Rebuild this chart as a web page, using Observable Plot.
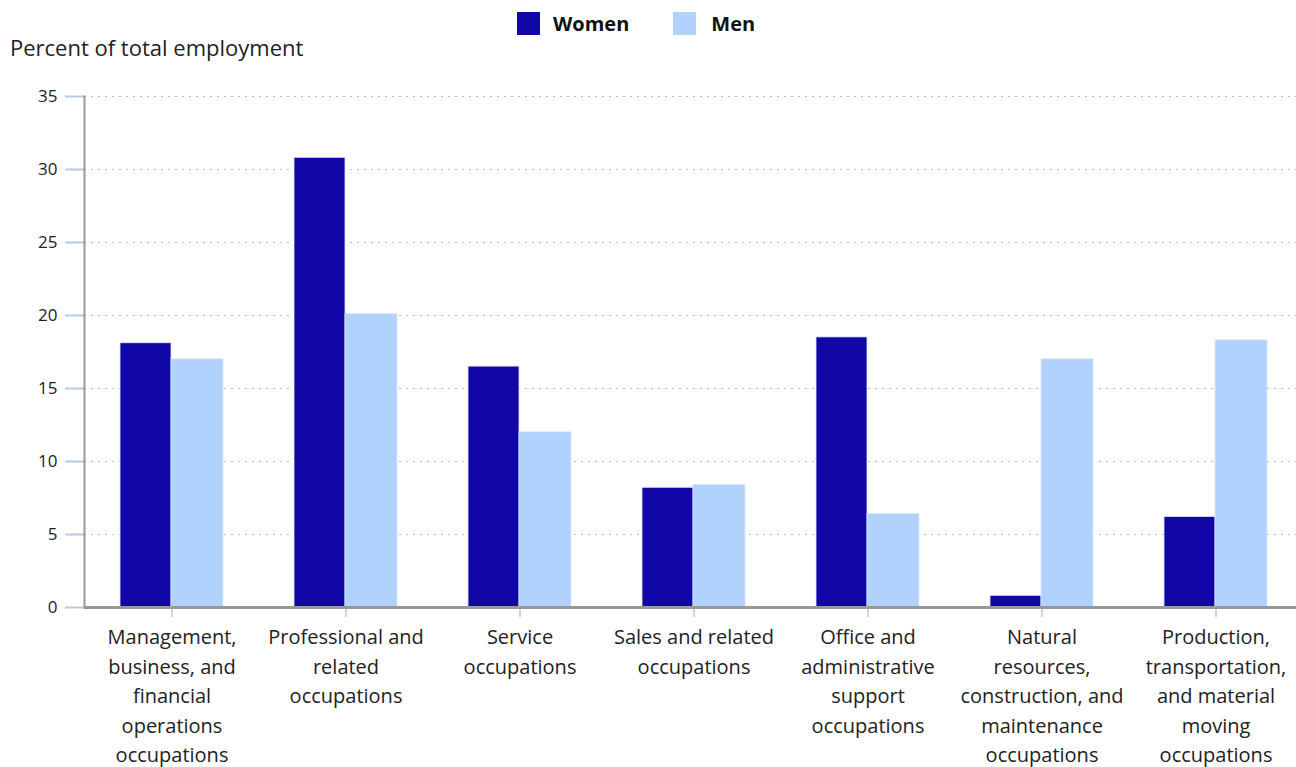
<!DOCTYPE html>
<html>
<head>
<meta charset="utf-8">
<script src="https://cdn.jsdelivr.net/npm/d3@7"></script>
<script src="https://cdn.jsdelivr.net/npm/@observablehq/plot@0.6"></script>
<style>
  body { margin: 0; background: #fff; font-family: "Open Sans", sans-serif; }
  #wrap { position: relative; width: 1296px; height: 767px; }
  #legend { position: absolute; top: 10px; left: 517px; display: flex; align-items: center; font-weight: bold; font-size: 20px; color: #111; }
  .sw { width: 23px; height: 23px; display: inline-block; margin-right: 13px; }
  #ylabel { position: absolute; top: 32px; left: 10px; font-size: 22px; color: #222; }
</style>
</head>
<body>
<div id="wrap">
  <div id="chart"></div>
  <div id="legend">
    <span class="sw" style="background:#1107a6"></span><span style="margin-right:44px">Women</span>
    <span class="sw" style="background:#b0d2fd"></span><span style="margin-left:2px">Men</span>
  </div>
  <div id="ylabel">Percent of total employment</div>
</div>
<script>
const categories = [
  "Management,\nbusiness, and\nfinancial\noperations\noccupations",
  "Professional and\nrelated\noccupations",
  "Service\noccupations",
  "Sales and related\noccupations",
  "Office and\nadministrative\nsupport\noccupations",
  "Natural\nresources,\nconstruction, and\nmaintenance\noccupations",
  "Production,\ntransportation,\nand material\nmoving\noccupations"
];
const series = ["Women", "Men"];
const women = [18.1, 30.8, 16.5, 8.2, 18.5, 0.8, 6.2];
const men = [17.0, 20.1, 12.0, 8.4, 6.4, 17.0, 18.3];
const yTicks = [0, 5, 10, 15, 20, 25, 30, 35];
const colors = ["#1107a6", "#b0d2fd"];

const womenData = categories.map((c, i) => ({category: c, sex: series[0], value: women[i]}));
const menData = categories.map((c, i) => ({category: c, sex: series[1], value: men[i]}));

const chart = Plot.plot({
  width: 1296,
  height: 767,
  marginTop: 96,
  marginBottom: 160,
  marginLeft: 84,
  marginRight: 0,
  style: {fontFamily: "Open Sans, sans-serif", fontSize: "17px", color: "#222"},
  x: {domain: categories, range: [83, 1303], paddingInner: 0.41, paddingOuter: 0.205, label: null},
  y: {domain: [0, 35], ticks: yTicks, label: null},
  color: {domain: series, range: colors},
  marks: [
    Plot.gridY(yTicks, {stroke: "#bbb", strokeOpacity: 1, strokeDasharray: "2,5", strokeWidth: 1.2}),
    Plot.barY(womenData, {x: "category", y: "value", fill: "sex", stroke: "#dde6ff", strokeWidth: 0.8, insetRight: 52}),
    Plot.barY(menData, {x: "category", y: "value", fill: "sex", stroke: "#dde6ff", strokeWidth: 0.8, insetLeft: 51}),
    Plot.axisY(yTicks, {tickSize: 19, stroke: "#b5cbe3", strokeWidth: 2, tickPadding: 8, fontSize: 17, fill: "#222"}),
    Plot.frame({anchor: "left", stroke: "#999", strokeWidth: 2}),
    Plot.axisX({anchor: "bottom", tickSize: 10, stroke: "#b5cbe3", strokeWidth: 1.5, tickPadding: 6, fontSize: 20, lineHeight: 1.47, fill: "#222", label: null}),
    Plot.ruleY([0], {stroke: "#999", strokeWidth: 3})
  ]
});
document.getElementById("chart").appendChild(chart);
</script>
</body>
</html>
